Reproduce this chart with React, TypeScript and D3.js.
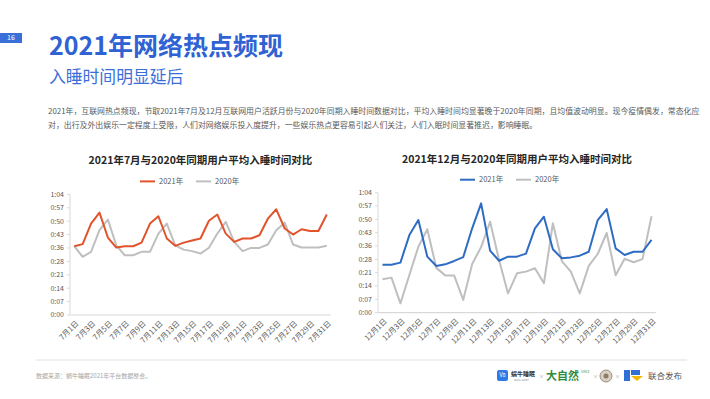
import React from 'react'
import * as d3 from 'd3'

// 入睡时间（单位：分钟，相对 0:00）
const julyDays = d3.range(1, 32).map((d) => `7月${d}日`)
const decDays = d3.range(1, 32).map((d) => `12月${d}日`)

const july2021 = [36.5, 37.6, 48.5, 54.3, 41.1, 35.8, 36.5, 36.5, 38.4, 48.5, 52.4, 40.6, 36.7, 38.4, 39.5, 40.6,
    50, 53.3, 43.2, 38.8, 40.6, 40.6, 42.3, 51.1, 56.1, 45.9, 42.7, 45.5, 44.6, 44.6, 53.3]
const july2020 = [36.5, 30.9, 33.5, 45, 50.6, 37, 31.7, 31.7, 33.5, 33.5, 43.2, 48.5, 37, 34.7, 33.9, 32.6,
    35.7, 43.2, 49.4, 38.8, 33.9, 35.6, 35.6, 37.4, 45, 49, 37.4, 35.8, 35.8, 35.8, 36.7]

const dec2021 = [25.6, 25.6, 26.7, 41.4, 49.4, 29.9, 24.9, 25.8, 27.6, 29.6, 45, 58.3, 33.1, 27.7, 29.9, 29.9,
    31.5, 45, 51.2, 33.8, 29, 29.5, 30.4, 32.5, 49.4, 55.3, 34.3, 30.8, 32.5, 32.5, 38.8]
const dec2020 = [17.8, 18.7, 5, 20.1, 35.2, 44.5, 23.9, 19.9, 19.8, 6.8, 26, 35, 48.5, 28.1, 10.3, 21,
    21.9, 23.7, 15.7, 47.7, 27.5, 21.9, 10.3, 25, 31.3, 42.5, 20, 28.8, 26.9, 28.6, 51.4]

const yTickLabels = ['0:00', '0:07', '0:14', '0:21', '0:28', '0:36', '0:43', '0:50', '0:57', '1:04']
const yMax = 64

const FONT = '"Noto Sans CJK SC", "Noto Sans", sans-serif'

type Series = { name: string, color: string, values: number[] }

const LineChart = ({ x0, x1, yTop, yBottom, title, cats, series, legendX }:
    { x0: number, x1: number, yTop: number, yBottom: number, title: string, cats: string[], series: Series[], legendX: number }) => {

    const x = d3.scalePoint<string>().domain(cats).range([x0, x1]).padding(0.5)
    const y = d3.scaleLinear().domain([0, yMax]).range([yBottom, yTop])
    const line = d3.line<number>()
        .x((_, i) => x(cats[i]) as number)
        .y((d) => y(d))

    const cx = (x0 + x1) / 2

    return (
        <g>
            <text x={cx} y={yTop - 30} textAnchor="middle" fontSize={10.5} fontWeight="bold" fill="#262626">{title}</text>
            {series.map((s, i) => (
                <g key={s.name} transform={`translate(${legendX + i * 56}, ${yTop - 13})`}>
                    <line x1={0} x2={15} y1={0} y2={0} stroke={s.color} strokeWidth={2} />
                    <text x={19} y={0} dy="0.35em" fontSize={7.5} fill="#595959">{s.name}</text>
                </g>
            ))}
            {/* y axis */}
            <line x1={x0} x2={x0} y1={yTop} y2={yBottom} stroke="#d9d9d9" strokeWidth={1} />
            {yTickLabels.map((t, i) => {
                const v = y(i * yMax / (yTickLabels.length - 1))
                return (
                    <g key={t}>
                        <line x1={x0 - 3} x2={x0} y1={v} y2={v} stroke="#d9d9d9" />
                        <text x={x0 - 6} y={v} dy="0.35em" textAnchor="end" fontSize={7} fill="#595959">{t}</text>
                    </g>
                )
            })}
            {/* x axis */}
            <line x1={x0} x2={x1} y1={yBottom} y2={yBottom} stroke="#d9d9d9" strokeWidth={1.2} />
            {cats.map((c, i) => i % 2 === 0 ? (
                <text key={c} transform={`translate(${(x(c) as number) + 3}, ${yBottom + 7}) rotate(-45)`}
                    textAnchor="end" dy="0.35em" fontSize={7.6} fill="#595959">{c}</text>
            ) : null)}
            {series.slice().reverse().map((s) => (
                <path key={s.name} d={line(s.values) || ''} fill="none" stroke={s.color} strokeWidth={2} strokeLinejoin="round" />
            ))}
        </g>
    )
}

const App = () => {
    return (
        <svg width={710} height={399} style={{ position: 'absolute', left: 0, top: 0, fontFamily: FONT, background: '#fff' }}>
            <rect x={0} y={0} width={710} height={399} fill="#fff" />
            {/* page number */}
            <rect x={0} y={33} width={22} height={10} fill="#3a6fd8" />
            <text x={11} y={38} dy="0.35em" textAnchor="middle" fontSize={7} fill="#fff">16</text>

            <text x={49} y={55} fontSize={25} fontWeight="bold" fill="#2f62d3">2021年网络热点频现</text>
            <text x={49} y={83} fontSize={16.8} fill="#3a6fd8">入睡时间明显延后</text>

            <text x={48} y={114} fontSize={7.9} fill="#595959">2021年，互联网热点频现，节取2021年7月及12月互联网用户活跃月份与2020年同期入睡时间数据对比，平均入睡时间均显著晚于2020年同期，且均值波动明显。现今疫情偶发，常态化应</text>
            <text x={48} y={128} fontSize={7.9} fill="#595959">对，出行及外出娱乐一定程度上受限，人们对网络娱乐投入度提升，一些娱乐热点更容易引起人们关注，人们入眠时间显著推迟，影响睡眠。</text>

            <LineChart x0={70} x1={331} yTop={194.4} yBottom={315} title="2021年7月与2020年同期用户平均入睡时间对比"
                cats={julyDays} legendX={140}
                series={[{ name: '2021年', color: '#e2532b', values: july2021 }, { name: '2020年', color: '#bfbfbf', values: july2020 }]} />
            <LineChart x0={378} x1={656} yTop={192.7} yBottom={312.7} title="2021年12月与2020年同期用户平均入睡时间对比"
                cats={decDays} legendX={460}
                series={[{ name: '2021年', color: '#2e6cc4', values: dec2021 }, { name: '2020年', color: '#bfbfbf', values: dec2020 }]} />

            {/* footer */}
            <line x1={36} x2={687} y1={360} y2={360} stroke="#e0e0e0" strokeWidth={1} />
            <text x={36} y={378} fontSize={6} fill="#a6a6a6">数据来源：蜗牛睡眠2021年平台数据整合。</text>

            <rect x={497} y={370} width={11} height={11} rx={2} fill="#2f7ae5" />
            <text x={502.5} y={375.5} dy="0.35em" textAnchor="middle" fontSize={5.5} fill="#fff">V8</text>
            <text x={511} y={376} fontSize={6} fontWeight="bold" fill="#333">蜗牛睡眠</text>
            <text x={514} y={381} fontSize={2.5} fill="#888">SNAIL SLEEP</text>
            <text x={539} y={376} dy="0.35em" fontSize={5} fill="#999">×</text>
            <text x={546} y={376} dy="0.35em" fontSize={11} fontWeight="bold" fill="#2e8b3e">大自然</text>
            <text x={581} y={373} fontSize={3} fill="#2e8b3e">SINCE</text>
            <text x={593} y={376} dy="0.35em" fontSize={5} fill="#999">×</text>
            <circle cx={606} cy={376} r={6} fill="#d8cfc0" stroke="#9a8f7e" strokeWidth={1} />
            <circle cx={606} cy={376} r={2.5} fill="#8a7d6a" />
            <text x={615} y={376} dy="0.35em" fontSize={5} fill="#999">×</text>
            <rect x={624} y={370} width={6} height={11} fill="#2f6fd6" />
            <rect x={631} y={370} width={9} height={5} fill="#2f6fd6" />
            <path d="M631,376 L643,376 L637,381 Z" fill="#f2b705" />
            <text x={648} y={376} dy="0.35em" fontSize={8.5} fill="#555">联合发布</text>
        </svg>
    )
}

export default App
